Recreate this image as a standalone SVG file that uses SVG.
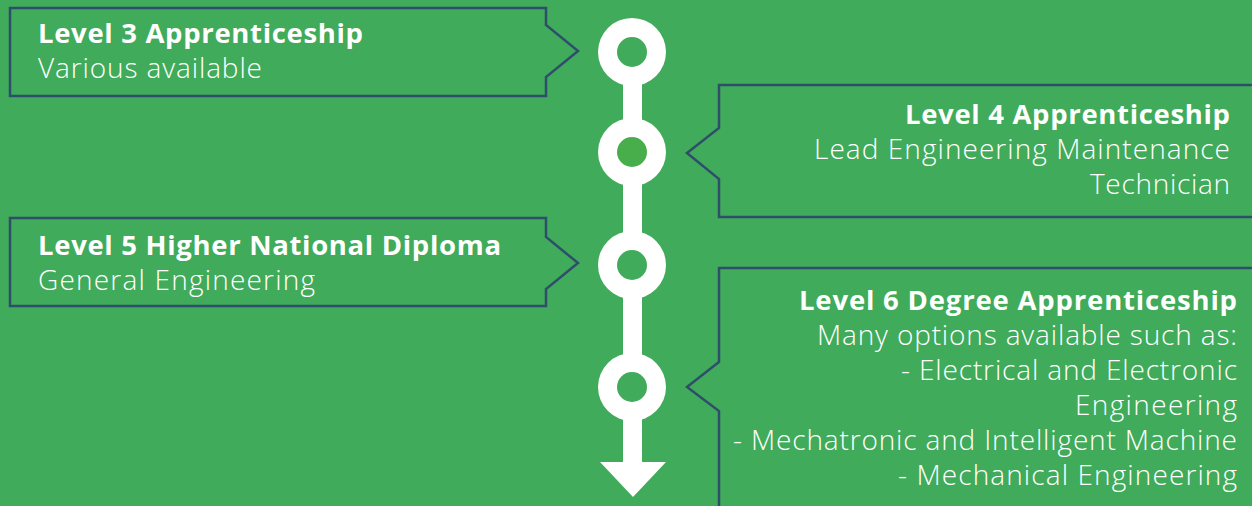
<svg xmlns="http://www.w3.org/2000/svg" width="1252" height="506" viewBox="0 0 1252 506">
<style>
.box{fill:none;stroke:#2F4E6C;stroke-width:2.5;stroke-linejoin:miter}
.t{font-family:"Open Sans","Liberation Sans",sans-serif;font-weight:700;font-size:27.5px;fill:#fff}
.b{font-family:"Open Sans","Liberation Sans",sans-serif;font-weight:300;font-size:28px;fill:#fff}
.ring{fill:#fff}
.hole{fill:#40AB5A}
</style>
<rect width="1252" height="506" fill="#40AB5A"/>
<g id="timeline">
<rect x="623" y="50" width="19" height="415" fill="#fff"/>
<polygon points="600,462 666,462 633,497" fill="#fff"/>
</g>
<g id="node1">
<circle class="ring" cx="632" cy="52" r="34"/>
<circle class="hole" cx="632" cy="52" r="15"/>
</g>
<g id="node2">
<circle class="ring" cx="632" cy="152" r="34"/>
<circle cx="632" cy="152" r="15" fill="#48AE4C"/>
</g>
<g id="node3">
<circle class="ring" cx="632" cy="265" r="34"/>
<circle class="hole" cx="632" cy="265" r="15"/>
</g>
<g id="node4">
<circle class="ring" cx="632" cy="387" r="34"/>
<circle class="hole" cx="632" cy="387" r="15"/>
</g>
<g id="box1">
<path class="box" d="M10,8 H546 V25 L578,51 L546,77 V96 H10 Z"/>
<text class="t" x="38" y="43" textLength="325">Level 3 Apprenticeship</text>
<text class="b" x="38" y="78" textLength="224">Various available</text>
</g>
<g id="box2">
<path class="box" d="M1256,85 H719 V128 L687,153 L719,179 V217 H1256"/>
<text class="t" x="905" y="124" textLength="325">Level 4 Apprenticeship</text>
<text class="b" x="814" y="159" textLength="416">Lead Engineering Maintenance</text>
<text class="b" x="1090" y="194" textLength="140">Technician</text>
</g>
<g id="box3">
<path class="box" d="M10,218 H546 V237 L578,263 L546,289 V306 H10 Z"/>
<text class="t" x="38" y="255" textLength="463">Level 5 Higher National Diploma</text>
<text class="b" x="38" y="290" textLength="277">General Engineering</text>
</g>
<g id="box4">
<path class="box" d="M1256,268 H719 V362 L687,387 L719,411 V510"/>
<text class="t" x="799" y="310" textLength="438">Level 6 Degree Apprenticeship</text>
<text class="b" x="817" y="345" textLength="420">Many options available such as:</text>
<text class="b" x="901" y="380" textLength="336">- Electrical and Electronic</text>
<text class="b" x="1075" y="415" textLength="162">Engineering</text>
<text class="b" x="733" y="450" textLength="504">- Mechatronic and Intelligent Machine</text>
<text class="b" x="898" y="485" textLength="339">- Mechanical Engineering</text>
</g>
</svg>
